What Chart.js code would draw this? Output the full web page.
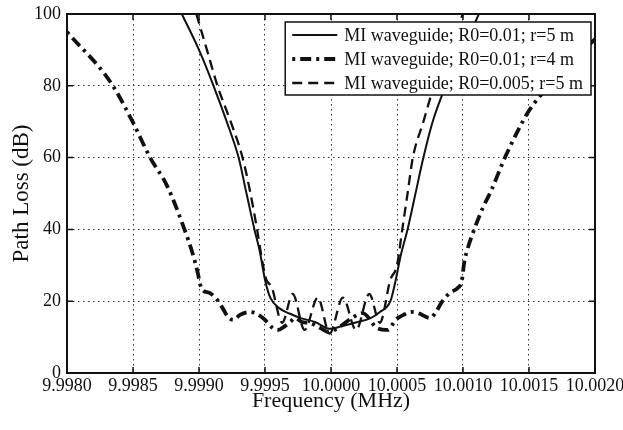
<!DOCTYPE html>
<html>
<head>
<meta charset="utf-8">
<script src="https://cdn.jsdelivr.net/npm/chart.js@4.4.1/dist/chart.umd.min.js"></script>
<style>
  html, body { margin: 0; padding: 0; background: #fff; }
  #wrap { width: 623px; height: 430px; }
</style>
</head>
<body>
<div id="wrap"><canvas id="lossChart"></canvas></div>
<script>
const xTicks = [9.998, 9.9985, 9.999, 9.9995, 10.0, 10.0005, 10.001, 10.0015, 10.002];
const yTicks = [0, 20, 40, 60, 80, 100];

const seriesNames = [
  'MI waveguide; R0=0.01; r=5 m',
  'MI waveguide; R0=0.01; r=4 m',
  'MI waveguide; R0=0.005; r=5 m'
];

// R0=0.01, r=5 m (solid)
const freqA = [9.99887, 9.99900, 9.99911, 9.99921, 9.99930, 9.99936, 9.99942, 9.99946, 9.99950, 9.99954,
  9.99961, 9.99969, 9.99977, 9.99988, 9.99999, 10.00008, 10.00018, 10.00030, 10.00037, 10.00045,
  10.000485, 10.00053, 10.00058, 10.00064, 10.00070, 10.00077, 10.00087, 10.00100, 10.00112];
const lossA = [100, 90, 80, 70, 60, 50, 40, 34, 26, 21,
  18, 16.5, 15.3, 14.2, 12.3, 13, 14, 15.3, 17, 20,
  25, 33, 40, 50, 60, 70, 80, 90, 100];

// R0=0.01, r=4 m (dash-dot)
const freqB = [9.99800, 9.99833, 9.99849, 9.99863, 9.99876, 9.99889, 9.99895, 9.99899, 9.99901, 9.99903,
  9.99908, 9.99914, 9.99918, 9.99922, 9.99926, 9.99931, 9.99939, 9.99945, 9.99950, 9.99956,
  9.99960, 9.99964, 9.99969, 9.99973, 9.99978, 9.99984, 9.99992, 9.99998, 10.00005, 10.00017,
  10.00024, 10.00035, 10.00043, 10.00049, 10.00055, 10.00061, 10.00066, 10.00075, 10.00079, 10.00084,
  10.00090, 10.00096, 10.00099, 10.00101, 10.00103, 10.00108, 10.00115, 10.00121, 10.00130, 10.00133,
  10.00143, 10.00149, 10.00158, 10.00174, 10.00186, 10.00200];
const lossB = [95, 81, 70.5, 60, 52, 40, 33.5, 28, 24.5, 23,
  22.3, 20.3, 18, 15.6, 14.8, 16.2, 17, 16.2, 14.8, 12.5,
  12, 12.8, 14.2, 15.3, 14.2, 13.9, 12.5, 11.4, 12.5, 15.6,
  16.7, 12.5, 12, 14.8, 16.2, 17, 16.7, 15.3, 16.7, 19.8,
  22.3, 23.7, 25.5, 31, 34, 39.5, 46, 50.5, 58.5, 61,
  68.5, 72.5, 77, 83, 88, 93];

// R0=0.005, r=5 m (dashed)
const freqC = [9.99898, 9.99906, 9.99914, 9.99924, 9.99933, 9.99939, 9.99944, 9.99948, 9.99951, 9.99955,
  9.99963, 9.99971, 9.99980, 9.99990, 9.99999, 10.00009, 10.00019, 10.00029, 10.00037, 10.00045,
  10.00050, 10.00054, 10.00058, 10.00062, 10.00070, 10.00078, 10.00090, 10.00100];
const lossC = [100, 90, 80, 70, 60, 50, 40, 31, 26, 24,
  14, 22, 12, 21, 11, 21, 12, 22, 14, 26,
  30, 40, 50, 60, 70, 80, 92, 100];

const serif = "'Liberation Serif', 'Times New Roman', serif";
const ink = '#111';

const toPoints = (xs, ys) => xs.map((f, i) => ({ x: f, y: ys[i] }));

const frame = {
  id: 'frame',
  afterDraw(chart) {
    const { ctx, chartArea: a, scales: { x, y } } = chart;
    ctx.save();
    ctx.strokeStyle = ink;
    ctx.lineWidth = 1.5;
    ctx.beginPath();
    x.ticks.forEach(t => {
      const px = x.getPixelForValue(t.value);
      ctx.moveTo(px, a.bottom); ctx.lineTo(px, a.bottom - 6);
      ctx.moveTo(px, a.top); ctx.lineTo(px, a.top + 6);
    });
    y.ticks.forEach(t => {
      const py = y.getPixelForValue(t.value);
      ctx.moveTo(a.left, py); ctx.lineTo(a.left + 6, py);
      ctx.moveTo(a.right, py); ctx.lineTo(a.right - 6, py);
    });
    ctx.stroke();
    ctx.lineWidth = 2;
    ctx.strokeRect(a.left, a.top, a.right - a.left, a.bottom - a.top);

    // legend box inside the plot, top right
    const sets = chart.data.datasets;
    ctx.font = '18px ' + serif;
    const textW = Math.max(...sets.map(d => ctx.measureText(d.label).width));
    const rowH = 24;
    const w = 59 + textW + 8;
    const h = rowH * sets.length + 1;
    const left = a.right - 4 - w;
    const top = a.top + 8;
    ctx.fillStyle = '#fff';
    ctx.fillRect(left, top, w, h);
    ctx.lineWidth = 1.5;
    ctx.strokeRect(left, top, w, h);
    sets.forEach((d, i) => {
      const cy = top + 13 + i * rowH;
      ctx.save();
      ctx.lineWidth = d.borderWidth;
      ctx.setLineDash(d.borderDash || []);
      ctx.beginPath();
      ctx.moveTo(left + 7, cy);
      ctx.lineTo(left + 52, cy);
      ctx.stroke();
      ctx.restore();
      ctx.fillStyle = ink;
      ctx.textBaseline = 'middle';
      ctx.fillText(d.label, left + 59, cy + 1);
    });
    ctx.restore();
  }
};

new Chart(document.getElementById('lossChart'), {
  type: 'line',
  data: {
    datasets: [
      {
        label: seriesNames[0],
        data: toPoints(freqA, lossA),
        borderColor: ink,
        borderWidth: 2,
        pointRadius: 0,
        cubicInterpolationMode: 'monotone'
      },
      {
        label: seriesNames[1],
        data: toPoints(freqB, lossB),
        borderColor: ink,
        borderWidth: 3.8,
        borderDash: [3, 5, 11, 5],
        pointRadius: 0,
        cubicInterpolationMode: 'monotone'
      },
      {
        label: seriesNames[2],
        data: toPoints(freqC, lossC),
        borderColor: ink,
        borderWidth: 2.3,
        borderDash: [10, 6],
        pointRadius: 0,
        cubicInterpolationMode: 'monotone'
      }
    ]
  },
  options: {
    responsive: true,
    maintainAspectRatio: false,
    animation: false,
    layout: { padding: { top: 14, right: 28, left: 0, bottom: 0 } },
    plugins: {
      legend: { display: false },
      tooltip: { enabled: false }
    },
    scales: {
      x: {
        type: 'linear',
        min: 9.998,
        max: 10.002,
        afterBuildTicks: s => { s.ticks = xTicks.map(v => ({ value: v })); },
        afterFit: s => { s.height = 57; s.paddingLeft = 0; s.paddingRight = 0; },
        ticks: {
          callback: v => v.toFixed(4),
          font: { family: serif, size: 18 },
          color: ink,
          padding: 2,
          maxRotation: 0,
          autoSkip: false
        },
        grid: { color: '#333', lineWidth: 1, drawTicks: false },
        border: { display: true, color: ink, width: 2, dash: [1.5, 3.5] },
        title: {
          display: true,
          text: 'Frequency (MHz)',
          font: { family: serif, size: 22 },
          color: ink,
          padding: { top: 0, bottom: 16 }
        }
      },
      y: {
        min: 0,
        max: 100,
        afterBuildTicks: s => { s.ticks = yTicks.map(v => ({ value: v })); },
        afterFit: s => { s.width = 67; s.paddingTop = 0; s.paddingBottom = 0; },
        ticks: {
          font: { family: serif, size: 18 },
          color: ink,
          padding: 6
        },
        grid: { color: '#333', lineWidth: 1, drawTicks: false },
        border: { display: true, color: ink, width: 2, dash: [1.5, 3.5] },
        title: {
          display: true,
          text: 'Path Loss (dB)',
          font: { family: serif, size: 23 },
          color: ink,
          padding: { top: 8, bottom: 0 }
        }
      }
    }
  },
  plugins: [frame]
});
</script>
</body>
</html>
